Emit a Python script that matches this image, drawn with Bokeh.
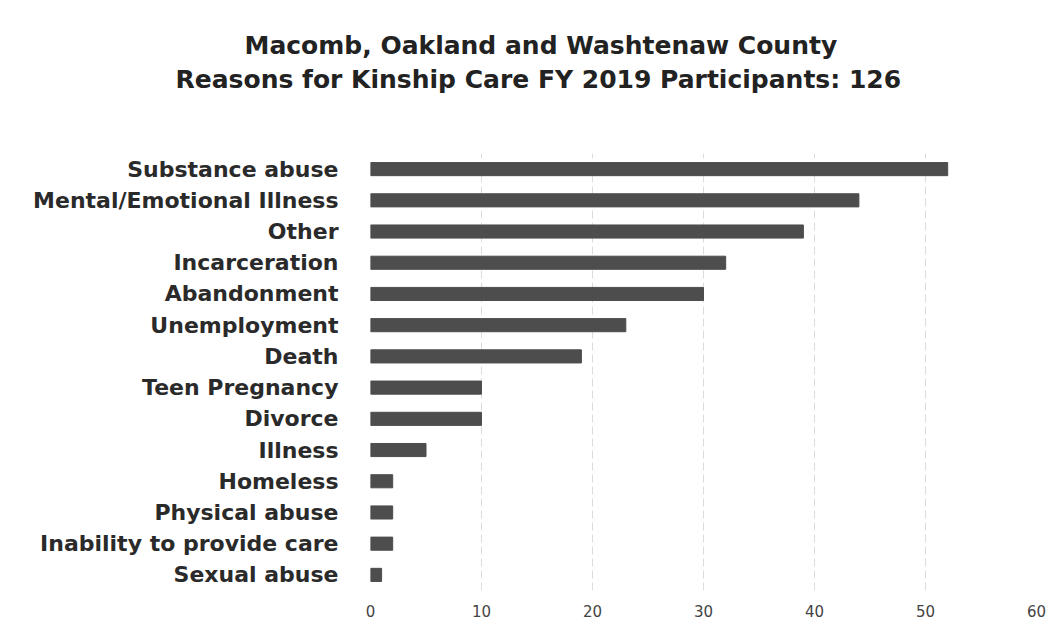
from bokeh.plotting import figure
from bokeh.models import FactorRange, Range1d, Title, FixedTicker
from bokeh.embed import file_html
from bokeh.resources import INLINE

title_lines = ["Macomb, Oakland and Washtenaw County",
               "Reasons for Kinship Care FY 2019 Participants: 126"]
categories = ["Substance abuse", "Mental/Emotional Illness", "Other", "Incarceration",
              "Abandonment", "Unemployment", "Death", "Teen Pregnancy", "Divorce",
              "Illness", "Homeless", "Physical abuse", "Inability to provide care",
              "Sexual abuse"]
counts = [52, 44, 39, 32, 30, 23, 19, 10, 10, 5, 2, 2, 2, 1]
x_ticks = [0, 10, 20, 30, 40, 50, 60]

p = figure(width=1055, height=624, output_backend="svg", toolbar_location=None,
           y_range=FactorRange(factors=categories[::-1], range_padding=0),
           x_range=Range1d(0, 60),
           min_border_left=370, min_border_right=19, min_border_top=153,
           min_border_bottom=34)
p.title.visible = False
p.outline_line_color = None
p.background_fill_color = "white"
p.border_fill_color = "white"

p.hbar(y=categories, right=counts, left=0, height=0.42, color="#4d4d4d")

p.xaxis.ticker = FixedTicker(ticks=x_ticks)
p.xaxis.axis_line_color = None
p.xaxis.major_tick_line_color = None
p.xaxis.minor_tick_line_color = None
p.xaxis.major_tick_out = 0
p.xaxis.major_label_standoff = 14
p.xaxis.major_label_text_font = "DejaVu Sans"
p.xaxis.major_label_text_font_size = "15px"
p.xaxis.major_label_text_color = "#444444"

p.yaxis.axis_line_color = None
p.yaxis.major_tick_line_color = None
p.yaxis.major_tick_out = 0
p.yaxis.major_label_standoff = 32
p.yaxis.major_label_text_font = "DejaVu Sans"
p.yaxis.major_label_text_font_size = "22px"
p.yaxis.major_label_text_font_style = "bold"
p.yaxis.major_label_text_color = "#2a2a2a"

p.xgrid.grid_line_color = "#dcdcdc"
p.xgrid.grid_line_width = 1
p.xgrid.grid_line_dash = "8 4"
p.ygrid.grid_line_color = None

# spacer between the frame and the two title lines
p.add_layout(Title(text=" ", standoff=47, text_font_size="10px"), "above")
p.add_layout(Title(text=title_lines[1], align="left", offset=-195, standoff=0,
                   text_font="DejaVu Sans", text_font_size="25px",
                   text_font_style="bold", text_color="#222222"), "above")
p.add_layout(Title(text=title_lines[0], align="left", offset=-126, standoff=6,
                   text_font="DejaVu Sans", text_font_size="25px",
                   text_font_style="bold", text_color="#222222"), "above")

open("out.html", "w").write(file_html(p, INLINE))
